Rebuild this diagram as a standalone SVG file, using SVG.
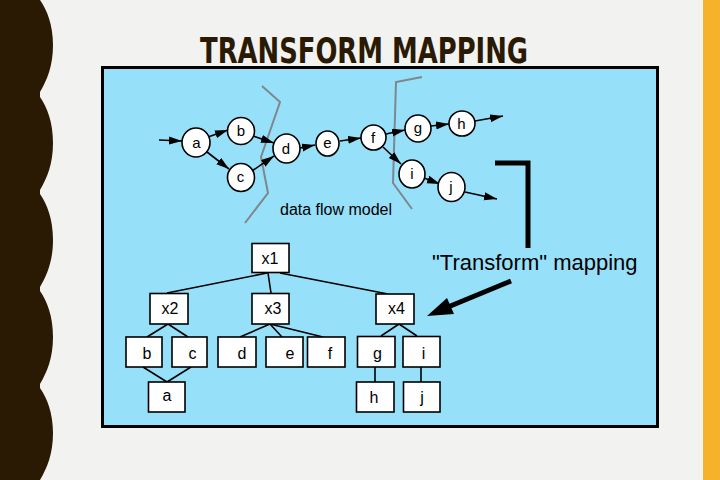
<svg xmlns="http://www.w3.org/2000/svg" width="720" height="480" viewBox="0 0 720 480">
<style>
.bg{fill:#F2F2F0}
.c ellipse{fill:#fff;stroke:#000;stroke-width:1.6}
.t rect{fill:#fff;stroke:#000;stroke-width:1.6}
.lbl{font-family:"Liberation Sans",Arial,sans-serif;font-size:15px;fill:#000;text-anchor:middle}
.tl{font-family:"Liberation Sans",Arial,sans-serif;font-size:16px;fill:#000;text-anchor:middle}
.arr{stroke:#000;stroke-width:1.6;fill:none;marker-end:url(#ah)}
.edge{stroke:#000;stroke-width:1.6;fill:none}
.cut{stroke:#7D878C;stroke-width:2;fill:none}
</style>
<defs>
<marker id="ah" markerUnits="userSpaceOnUse" markerWidth="14" markerHeight="10" refX="13" refY="4" orient="auto">
<path d="M0,0 L13,4 L0,8 Z" fill="#000"/>
</marker>
</defs>
<rect class="bg" x="0" y="0" width="720" height="480"/>
<rect x="703" y="0" width="17" height="480" fill="#F5B22A"/>
<path fill="#2A1A04" d="M0,0 L40,0 C47,10 53,25 53,45 C53,66 47,80 40,92 L40,97 C47,107 53,122 53,143 C53,164 47,178 40,190 L40,194 C47,204 53,219 53,240 C53,261 47,275 40,287 L40,291 C47,301 53,316 53,337 C53,358 47,372 40,384 L40,388 C47,398 53,413 53,433 C53,454 47,468 40,480 L0,480 Z"/>
<text x="364" y="63" font-family="'DejaVu Sans Condensed','DejaVu Sans',sans-serif" font-weight="bold" font-stretch="condensed" font-size="36" fill="#2A1A04" text-anchor="middle" textLength="328" lengthAdjust="spacingAndGlyphs">TRANSFORM MAPPING</text>
<rect x="102.5" y="67.5" width="555" height="359" fill="#97E0FA" stroke="#000" stroke-width="3"/>
<polyline class="cut" points="262,86 280,102 261,157 268,193 245,223"/>
<polyline class="cut" points="422,77 396,82 393,183 412,209"/>
<path d="M495,163 L528,163 L528,248" fill="none" stroke="#000" stroke-width="5"/>
<text x="432" y="270" font-family="'Liberation Sans',Arial,sans-serif" font-size="22" fill="#000">"Transform" mapping</text>
<text x="280" y="215" font-family="'Liberation Sans',Arial,sans-serif" font-size="16" fill="#000">data flow model</text>
<g id="connectors">
<line class="arr" x1="159" y1="140" x2="182" y2="141"/>
<line class="arr" x1="208" y1="137" x2="228" y2="130"/>
<line class="arr" x1="207" y1="152" x2="229" y2="169"/>
<line class="arr" x1="253" y1="136" x2="274" y2="143"/>
<line class="arr" x1="252" y1="171" x2="274" y2="156"/>
<line class="arr" x1="300" y1="148" x2="315" y2="145"/>
<line class="arr" x1="340" y1="141" x2="361" y2="138"/>
<line class="arr" x1="386" y1="134" x2="405" y2="130"/>
<line class="arr" x1="383" y1="147" x2="401" y2="164"/>
<line class="arr" x1="431" y1="126" x2="449" y2="124"/>
<line class="arr" x1="475" y1="121" x2="503" y2="116"/>
<line class="arr" x1="424" y1="178" x2="440" y2="184"/>
<line class="arr" x1="465" y1="192" x2="497" y2="199"/>
<line x1="511" y1="281" x2="448" y2="307" stroke="#000" stroke-width="5"/>
<polygon points="427,316 447,298 454,314" fill="#000"/>
<line class="edge" x1="267" y1="273" x2="167" y2="293"/>
<line class="edge" x1="268" y1="273" x2="271" y2="293"/>
<line class="edge" x1="280" y1="273" x2="388" y2="294"/>
<line class="edge" x1="168" y1="324" x2="147" y2="337"/>
<line class="edge" x1="168" y1="324" x2="188" y2="337"/>
<line class="edge" x1="270" y1="324" x2="240" y2="337"/>
<line class="edge" x1="270" y1="324" x2="282" y2="337"/>
<line class="edge" x1="270" y1="324" x2="323" y2="337"/>
<line class="edge" x1="143" y1="367" x2="167" y2="382"/>
<line class="edge" x1="191" y1="367" x2="167" y2="382"/>
<line class="edge" x1="399" y1="324" x2="381" y2="336"/>
<line class="edge" x1="399" y1="324" x2="417" y2="336"/>
<line class="edge" x1="375" y1="367" x2="375" y2="382"/>
<line class="edge" x1="421" y1="367" x2="421" y2="382"/>
</g>
<g class="c">
<g id="n-a"><ellipse cx="196" cy="142.5" rx="14" ry="14.5"/><text class="lbl" x="196.5" y="147.5">a</text></g>
<g id="n-b"><ellipse cx="241" cy="131" rx="13.5" ry="13.5"/><text class="lbl" x="241" y="136">b</text></g>
<g id="n-c"><ellipse cx="241" cy="177.5" rx="13.5" ry="14"/><text class="lbl" x="240.5" y="182">c</text></g>
<g id="n-d"><ellipse cx="286.5" cy="148.5" rx="13.5" ry="14.5"/><text class="lbl" x="286" y="153.5">d</text></g>
<g id="n-e"><ellipse cx="327.5" cy="143.5" rx="11.5" ry="12.5"/><text class="lbl" x="327.5" y="148">e</text></g>
<g id="n-f"><ellipse cx="373.5" cy="137.5" rx="12.5" ry="12.5"/><text class="lbl" x="373" y="142.5">f</text></g>
<g id="n-g"><ellipse cx="418" cy="128.5" rx="13" ry="13.5"/><text class="lbl" x="418" y="133">g</text></g>
<g id="n-h"><ellipse cx="462" cy="123.5" rx="13" ry="12.5"/><text class="lbl" x="461.5" y="128.5">h</text></g>
<g id="n-i"><ellipse cx="412" cy="174" rx="13" ry="14"/><text class="lbl" x="412" y="178.5">i</text></g>
<g id="n-j"><ellipse cx="451.5" cy="187" rx="13.5" ry="14.5"/><text class="lbl" x="451" y="191.5">j</text></g>
</g>
<g class="t">
<g id="t-x1"><rect x="252" y="243.5" width="37" height="29"/><text class="tl" x="270" y="263.5">x1</text></g>
<g id="t-x2"><rect x="150" y="293.5" width="38" height="30.5"/><text class="tl" x="170" y="313.5">x2</text></g>
<g id="t-x3"><rect x="252" y="293.5" width="37" height="30.5"/><text class="tl" x="273" y="313.5">x3</text></g>
<g id="t-x4"><rect x="376" y="294" width="38" height="30"/><text class="tl" x="396.5" y="313.5">x4</text></g>
<g id="t-b"><rect x="126" y="337" width="36" height="30"/><text class="tl" x="147" y="358.5">b</text></g>
<g id="t-c"><rect x="172" y="337" width="35" height="30"/><text class="tl" x="192.5" y="358.5">c</text></g>
<g id="t-d"><rect x="218" y="337" width="38" height="30"/><text class="tl" x="242" y="358.5">d</text></g>
<g id="t-e"><rect x="266" y="337" width="37" height="30"/><text class="tl" x="290" y="358.5">e</text></g>
<g id="t-f"><rect x="307.5" y="337" width="37.5" height="30"/><text class="tl" x="330" y="358.5">f</text></g>
<g id="t-g"><rect x="357.5" y="336.5" width="37.5" height="30.5"/><text class="tl" x="377.5" y="358.5">g</text></g>
<g id="t-i"><rect x="403" y="336.5" width="37" height="30.5"/><text class="tl" x="423.5" y="358.5">i</text></g>
<g id="t-a"><rect x="148.5" y="382" width="36.5" height="30"/><text class="tl" x="167" y="401">a</text></g>
<g id="t-h"><rect x="356.5" y="382" width="37.5" height="30"/><text class="tl" x="374" y="403">h</text></g>
<g id="t-j"><rect x="403.5" y="382" width="36.5" height="30"/><text class="tl" x="422" y="403">j</text></g>
</g>
</svg>
